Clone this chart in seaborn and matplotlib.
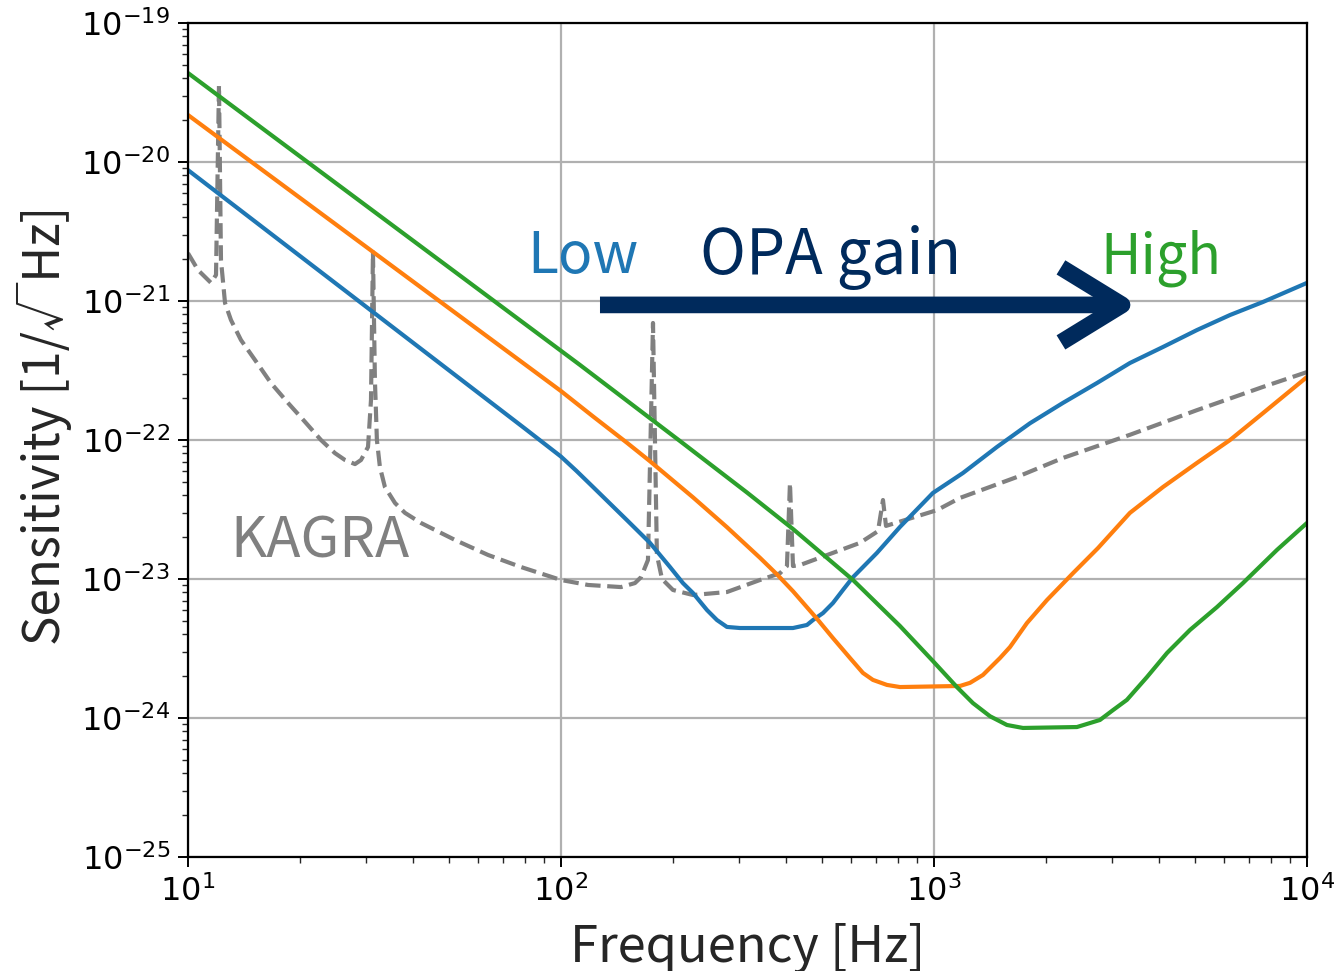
import numpy as np
import pandas as pd
import matplotlib
matplotlib.use("Agg")
import matplotlib.pyplot as plt
import seaborn as sns

# ---------------- data ----------------
blue_f = [10, 80, 100, 110, 121.8, 150.3, 173.2, 196.0, 212.3, 225.9, 246.3, 261.9, 278.6,
          302, 418.8, 456.6, 474, 504.1, 536, 570.2, 606.5, 703.1, 810.8, 993.5, 1196, 1475,
          1809, 2218, 2735, 3352, 4112, 5070, 6219, 7621, 10000]
blue_h = [8.75e-21, 1.21e-22, 7.6e-23, 6.0e-23, 4.6e-23, 2.65e-23, 1.82e-23, 1.22e-23,
          9.35e-24, 7.93e-24, 5.98e-24, 5.07e-24, 4.52e-24, 4.44e-24, 4.44e-24, 4.67e-24,
          5.07e-24, 5.69e-24, 6.72e-24, 8.34e-24, 1.03e-23, 1.54e-23, 2.37e-23, 4.16e-23,
          5.79e-23, 8.91e-23, 1.32e-22, 1.85e-22, 2.57e-22, 3.58e-22, 4.67e-22, 6.18e-22,
          7.93e-22, 9.84e-22, 1.35e-21]

orange_f = [10, 100, 121.8, 150.3, 173.2, 225.9, 278.6, 341.7, 379.4, 418.8, 485.6, 536,
            595.6, 645, 686, 748, 810.8, 1174, 1249, 1353, 1503, 1599, 1775, 2009, 2358,
            2753, 3352, 4112, 5070, 6219, 7621, 10000]
orange_h = [2.18e-20, 2.25e-22, 1.48e-22, 9.55e-23, 7.04e-23, 3.87e-23, 2.36e-23, 1.42e-23,
            1.08e-23, 8.17e-24, 5.18e-24, 3.76e-24, 2.70e-24, 2.11e-24, 1.88e-24, 1.73e-24,
            1.67e-24, 1.70e-24, 1.79e-24, 2.04e-24, 2.70e-24, 3.24e-24, 4.82e-24, 7.06e-24,
            1.10e-23, 1.67e-23, 2.99e-23, 4.59e-23, 6.84e-23, 1.0e-22, 1.56e-22, 2.84e-22]

green_f = [10, 112.4, 208.4, 315.3, 418.8, 606.5, 810.8, 993.5, 1152, 1272, 1413, 1569,
           1732, 2417, 2620, 2786, 3020, 3290, 3724, 4217, 4857, 5741, 6736, 8312, 10000]
green_h = [4.37e-20, 3.47e-22, 9.84e-23, 4.19e-23, 2.29e-23, 9.84e-24, 4.59e-24, 2.57e-24,
           1.67e-24, 1.28e-24, 1.03e-24, 8.91e-25, 8.48e-25, 8.61e-25, 9.2e-25, 9.68e-25,
           1.14e-24, 1.35e-24, 1.97e-24, 2.94e-24, 4.30e-24, 6.29e-24, 9.35e-24, 1.62e-23,
           2.53e-23]

kagra_f = [10, 10.64, 11.53, 11.89, 12.11, 12.26, 12.57, 13.04, 13.87, 15.12, 16.69, 18.54,
           20.6, 22.73, 24.77, 26.36, 28.04, 29.1, 30.39, 30.95, 31.33, 31.71, 32.1, 32.7,
           33.73, 35.9, 38.18, 42.14, 51.98, 63.73, 78.1, 100, 118.2, 144.9, 157.9, 163.9,
           171.1, 176.5, 180.8, 186.6, 199.6, 225.9, 278.6, 341.7, 386.5, 403.5, 411.1,
           418.8, 437.4, 633.4, 707.9, 730, 743.7, 1019, 1174, 1670, 2218, 3352, 5070,
           7621, 10000]
kagra_h = [2.21e-21, 1.67e-21, 1.35e-21, 1.54e-21, 3.58e-20, 1.97e-21, 9.68e-22, 7.3e-22,
           5.24e-22, 3.77e-22, 2.57e-22, 1.85e-22, 1.35e-22, 1.0e-22, 8.05e-23, 7.18e-23,
           6.71e-23, 7.18e-23, 8.91e-23, 1.94e-22, 2.25e-21, 2.70e-22, 1.0e-22, 6.4e-23,
           4.59e-23, 3.52e-23, 2.99e-23, 2.53e-23, 1.91e-23, 1.49e-23, 1.22e-23, 9.84e-24,
           9.06e-24, 8.75e-24, 9.35e-24, 1.03e-23, 1.37e-23, 6.95e-22, 1.49e-23, 1.0e-23,
           8.34e-24, 7.67e-24, 8.06e-24, 9.84e-24, 1.10e-23, 1.24e-23, 4.91e-23, 1.24e-23,
           1.26e-23, 1.82e-23, 2.21e-23, 3.70e-23, 2.41e-23, 3.13e-23, 3.83e-23, 5.42e-23,
           7.43e-23, 1.09e-22, 1.64e-22, 2.41e-22, 3.08e-22]

labels = {"low": "Low", "gain": "OPA gain", "high": "High", "kagra": "KAGRA"}
x_label = "Frequency [Hz]"
y_label = "Sensitivity [1/√Hz]"

# ---------------- style ----------------
sns.set_theme(style="whitegrid")
plt.rcParams["font.family"] = ["DejaVu Sans"]
plt.rcParams["mathtext.fontset"] = "dejavusans"
jp = ["Noto Sans CJK JP", "DejaVu Sans"]

BLUE, ORANGE, GREEN, GRAY = "#1f77b4", "#ff7f0e", "#2ca02c", "#808080"
NAVY = "#002a5c"

fig = plt.figure(figsize=(13.35, 9.71), dpi=100)
ax = fig.add_axes([0.1408, 0.1174, 0.979 - 0.1408, 0.9763 - 0.1174])

lw = 3.0
sns.lineplot(x=kagra_f, y=kagra_h, ax=ax, color=GRAY, lw=lw, linestyle="--",
             sort=False, estimator=None)
sns.lineplot(x=blue_f, y=blue_h, ax=ax, color=BLUE, lw=lw, sort=False, estimator=None)
sns.lineplot(x=orange_f, y=orange_h, ax=ax, color=ORANGE, lw=lw, sort=False, estimator=None)
sns.lineplot(x=green_f, y=green_h, ax=ax, color=GREEN, lw=lw, sort=False, estimator=None)

ax.set_xscale("log")
ax.set_yscale("log")
ax.set_xlim(10, 1e4)
ax.set_ylim(1e-25, 1e-19)

ax.set_facecolor("white")
ax.grid(True, which="major", color="#b0b0b0", lw=1.6)
ax.grid(False, which="minor")
for s in ax.spines.values():
    s.set_color("black")
    s.set_linewidth(1.6)

ax.tick_params(axis="both", which="major", direction="out", length=7, width=1.4,
               labelsize=23, colors="black", bottom=True, left=True, top=False, right=False,
               pad=6)
ax.tick_params(axis="both", which="minor", direction="out", length=4, width=1.0,
               bottom=True, left=True, top=False, right=False)
ax.yaxis.set_major_locator(matplotlib.ticker.LogLocator(base=10, numticks=20))
ax.yaxis.set_minor_locator(matplotlib.ticker.LogLocator(base=10, subs=np.arange(2, 10), numticks=100))

ax.set_xlabel(x_label, fontsize=36.5, family=jp, labelpad=10)
ax.set_ylabel(y_label, fontsize=35.5, family=jp)
ax.yaxis.set_label_coords(-0.104, 0.518)

# annotations
ax.text(0.3029, 0.700, labels["low"], transform=ax.transAxes, color=BLUE,
        fontsize=41, family=jp, ha="left", va="baseline")
ax.text(0.4576, 0.699, labels["gain"], transform=ax.transAxes, color=NAVY,
        fontsize=44.5, family=jp, ha="left", va="baseline")
ax.text(0.8150, 0.700, labels["high"], transform=ax.transAxes, color=GREEN,
        fontsize=40, family=jp, ha="left", va="baseline")
ax.text(0.0375, 0.3597, labels["kagra"], transform=ax.transAxes, color=GRAY,
        fontsize=40.5, family=jp, ha="left", va="baseline")

ax.annotate("", xy=(0.849, 0.662), xytext=(0.3682, 0.662),
            xycoords="axes fraction", textcoords="axes fraction",
            arrowprops=dict(arrowstyle="->,head_length=2.2,head_width=1.35",
                            lw=12, color=NAVY, mutation_scale=20,
                            shrinkA=0, shrinkB=0, capstyle="butt", joinstyle="round"))

fig.savefig("out.png", dpi=100)
